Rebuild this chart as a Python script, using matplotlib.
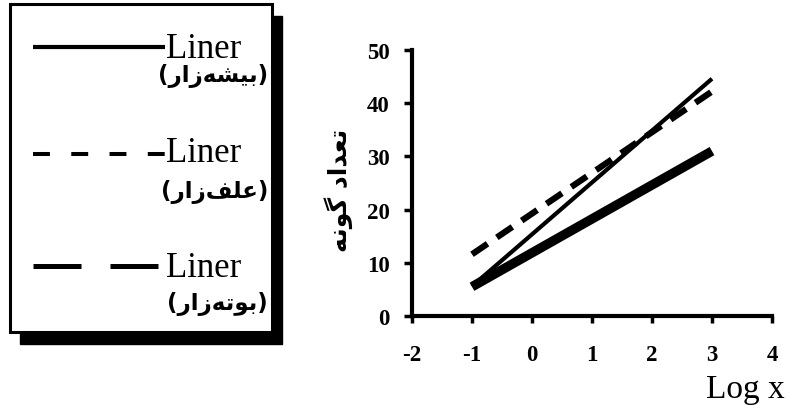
# ============================================
# SPECIES COUNT vs LOG X  (three habitats)
# ============================================

import numpy as np
import matplotlib
matplotlib.use("Agg")
import matplotlib.pyplot as plt
from matplotlib.lines import Line2D
from matplotlib.patches import Rectangle

plt.rcParams['axes.unicode_minus'] = False

# --------------------------------------------
# 1. DATA
# --------------------------------------------

x_ends = [-1, 3]

forest_y = [5.6, 44.6]      # بیشه‌زار  (thin solid)
grass_y = [11.6, 42.2]      # علف‌زار   (dashed)
shrub_y = [5.5, 31.0]       # بوته‌زار  (thick solid)

x_ticks = [-2, -1, 0, 1, 2, 3, 4]
y_ticks = [0, 10, 20, 30, 40, 50]

# persian text, shaped by hand (presentation forms, visual order)
forest_label = "(" + "\uFEAD\uFE8D\uFEAF\uFEEA\uFEB8\uFEF4\uFE91" + ")"
grass_label = "(" + "\uFEAD\uFE8D\uFEAF\uFED2\uFEE0\uFECB" + ")"
shrub_label = "(" + "\uFEAD\uFE8D\uFEAF\uFEEA\uFE97\uFEEE\uFE91" + ")"
y_title = "\uFEEA\uFEE7\uFEEE\uFB94 \uFEA9\uFE8D\uFEAA\uFECC\uFE97"

W, H = 790, 410

def fx(px):
    return px / W

def fy(py):
    return 1 - py / H

# --------------------------------------------
# 2. FIGURE + AXES
# --------------------------------------------

fig = plt.figure(figsize=(7.9, 4.1), dpi=100)
ax = fig.add_axes([fx(412), fy(317), (772 - 412) / W, (317 - 51) / H])

ax.plot(x_ends, shrub_y, color='black', lw=6.8, solid_capstyle='butt', zorder=3)
ax.plot(x_ends, forest_y, color='black', lw=3, solid_capstyle='butt', zorder=4)
ax.plot(x_ends, grass_y, color='black', lw=4.5, dashes=(3.0, 1.8),
        dash_capstyle='butt', zorder=5)

ax.set_xlim(-2, 4)
ax.set_ylim(0, 50)
ax.set_xticks(x_ticks)
ax.set_yticks(y_ticks)

for s in ['top', 'right']:
    ax.spines[s].set_visible(False)
for s in ['left', 'bottom']:
    ax.spines[s].set_linewidth(3)

ax.tick_params(axis='y', direction='out', length=6, width=2.5, pad=10)
ax.tick_params(axis='x', direction='out', length=5, width=2.5, pad=15)

for lab in ax.get_xticklabels() + ax.get_yticklabels():
    lab.set_fontfamily('Liberation Serif')
    lab.set_fontweight('bold')
    lab.set_fontsize(16.5)

ax.text(-0.205, 0.477, y_title, transform=ax.transAxes, rotation=90,
        ha='center', va='center', fontsize=18, fontweight='bold',
        family=['DejaVu Sans'])

fig.text(fx(785), fy(398), "Log x", ha='right', va='baseline',
         fontsize=24, family='Liberation Serif')

# --------------------------------------------
# 3. LEGEND BOX (drawn by hand)
# --------------------------------------------

shadow = Rectangle((fx(20), fy(345)), (272 - 10) / W, (333 - 5) / H,
                   transform=fig.transFigure, facecolor='black',
                   edgecolor='black', zorder=1)
box = Rectangle((fx(10), fy(333)), (272 - 10) / W, (333 - 5) / H,
                transform=fig.transFigure, facecolor='white',
                edgecolor='black', lw=2.2, zorder=2)
fig.patches.extend([shadow, box])

# (line y, text baseline, persian centre, line style, label, width)
entries = [
    (48, 58, 76, '-', forest_label, 3.0),
    (155, 162, 192, (0, (4.2, 5.3)), grass_label, 2.9),
    (267, 277, 304, (0, (9.6, 5.8)), shrub_label, 3.6),
]

for line_y, base_y, lab_y, style, lab, lw in entries:
    fig.add_artist(Line2D([fx(33), fx(165)], [fy(line_y), fy(line_y)],
                          transform=fig.transFigure, color='black', lw=lw,
                          linestyle=style, solid_capstyle='butt',
                          dash_capstyle='butt', zorder=3))
    fig.text(fx(166), fy(base_y), "Liner", ha='left', va='baseline',
             fontsize=25, family='Liberation Serif', zorder=3)
    fig.text(fx(268), fy(lab_y), lab, ha='right', va='center',
             fontsize=16.5, fontweight='bold', family=['DejaVu Sans'], zorder=3)

fig.savefig("out.png", dpi=100)
